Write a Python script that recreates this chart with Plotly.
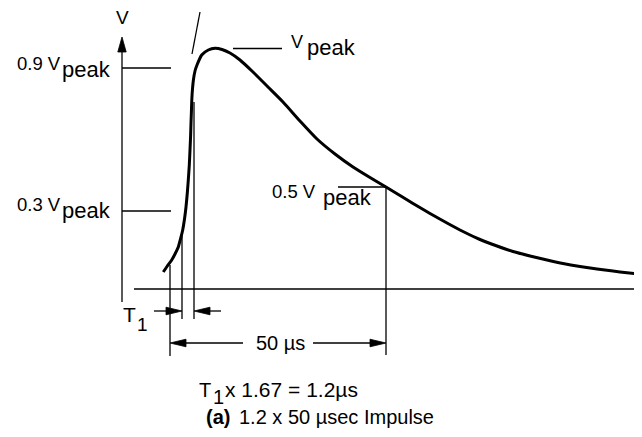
import plotly.graph_objects as go

# ---------------- data (diagram units: x to the right, y downward) ----------------
# impulse waveform: rising front, peak, exponential tail
curve_x = [163.3, 167.0, 171.7, 175.0, 178.3, 180.5, 182.7, 184.5, 186.0, 187.3, 188.3, 189.3,
           190.0, 190.6, 191.0, 191.4, 191.8, 192.4, 193.4, 195.0, 197.0, 201.7, 208.3, 215.0,
           222.0, 230.0, 240.0, 253.0, 268.0, 283.0, 300.0, 317.0, 335.0, 353.0, 370.0, 386.0,
           400.0, 413.0, 430.0, 447.0, 463.0, 480.0, 497.0, 513.0, 530.0, 547.0, 563.0, 580.0,
           597.0, 613.0, 627.0, 642.0]
curve_y = [272.0, 266.5, 260.0, 254.0, 247.0, 239.0, 230.0, 219.0, 207.0, 193.0, 180.0, 165.0,
           150.0, 136.0, 123.0, 112.0, 100.0, 90.0, 80.0, 71.0, 65.0, 55.0, 50.0, 48.3,
           49.5, 53.0, 60.0, 72.0, 87.0, 102.0, 121.0, 139.0, 154.0, 167.0, 177.5, 187.0,
           195.5, 203.5, 213.5, 223.0, 231.5, 239.5, 246.0, 251.5, 256.0, 260.0, 263.5, 266.5,
           269.0, 271.0, 272.8, 274.5]

level_labels = ["0.9 V", "0.3 V", "0.5 V"]
volt_symbol = "V"
sub_label = "peak"
t1_formula = "x 1.67 = 1.2µs"
duration_label = "50 µs"
caption_bold = "(a)"
caption_rest = "1.2 x 50 µsec Impulse"

FONT = "Liberation Sans, Arial, Helvetica, sans-serif"
INK = "#000000"

fig = go.Figure()
fig.add_trace(go.Scatter(x=curve_x, y=curve_y, mode="lines",
                         line=dict(color=INK, width=3, shape="spline", smoothing=0.6),
                         hoverinfo="skip"))

shapes = []


def seg(x0, y0, x1, y1, w=1.3):
    shapes.append(dict(type="line", xref="x", yref="y", x0=x0, y0=y0, x1=x1, y1=y1,
                       line=dict(color=INK, width=w)))


def head(tx, ty, dx, dy, length=16, half=3.8):
    # filled triangular arrowhead with tip (tx,ty) pointing along (dx,dy)
    bx, by = tx - dx * length, ty - dy * length
    px, py = -dy * half, dx * half
    path = f"M {tx},{ty} L {bx + px},{by + py} L {bx - px},{by - py} Z"
    shapes.append(dict(type="path", xref="x", yref="y", path=path,
                       fillcolor=INK, line=dict(color=INK, width=0.8)))


# vertical V axis with arrow
seg(122, 302, 122, 48)
head(122, 37, 0, -1, length=15, half=4.2)
# level ticks
seg(122, 68, 171, 68)
seg(122, 211, 171, 211)
# time baseline
seg(134, 289, 642, 289)
# V peak leader
seg(233, 48.5, 282, 48.5)
# tangent mark near front
seg(200, 12, 192, 54)
# 0.5 Vpeak marker
seg(338, 187, 386, 187)
seg(386, 187, 386, 355)
# front construction lines
seg(170, 265, 170, 356)
seg(182, 233, 182, 319)
seg(194, 102, 194, 319)
# T1 arrows
seg(154, 311, 172, 311)
head(182, 311, 1, 0)
seg(204, 311, 221, 311)
head(194, 311, -1, 0)
# 50 us dimension
seg(180, 343, 243, 343)
head(170, 343, -1, 0)
seg(313, 343, 376, 343)
head(386, 343, 1, 0)

annotations = []


def label(text, x, baseline, size, bold=False):
    t = f"<b>{text}</b>" if bold else text
    annotations.append(dict(text=t, x=x, y=baseline - 0.3465 * size, xref="x", yref="y",
                            xanchor="left", yanchor="middle", showarrow=False,
                            font=dict(family=FONT, size=size, color=INK)))


label(volt_symbol, 114, 24.5, 19)
# level labels
label(level_labels[0], 15, 69.5, 18.5)
label(sub_label, 60, 77, 22)
label(level_labels[1], 15, 211, 18.5)
label(sub_label, 60, 218.5, 22)
label(level_labels[2], 270, 198, 18.5)
label(sub_label, 321, 205, 22)
# Vpeak
label(volt_symbol, 289, 48, 18)
label(sub_label, 305, 55, 22)
# T1
label("T", 121, 322, 21)
label("1", 135, 331, 19)
label(duration_label, 254, 350, 20)
# T1 x 1.67 = 1.2 us
label("T", 197, 397, 20)
label("1", 211, 403.5, 20)
label(t1_formula, 223, 397, 21)
# caption
label(caption_bold, 204, 424, 20, bold=True)
label(caption_rest, 237, 424, 20)

# the page body keeps an 8 px margin, so the figure covers reference pixels 8..642
fig.update_layout(
    width=634, height=429,
    margin=dict(l=0, r=0, t=0, b=0),
    paper_bgcolor="white", plot_bgcolor="white",
    showlegend=False,
    xaxis=dict(range=[8, 642], visible=False, fixedrange=True),
    yaxis=dict(range=[437, 8], visible=False, fixedrange=True),
    shapes=shapes,
    annotations=annotations,
)

fig.write_html("out.html", config={"displayModeBar": False})
